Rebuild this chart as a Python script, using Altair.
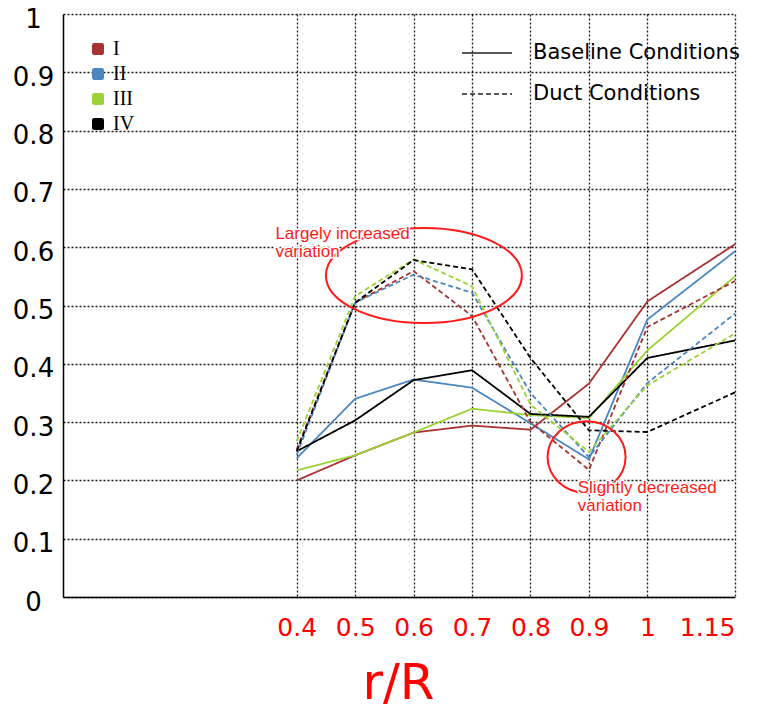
import altair as alt
import pandas as pd

# ---- data ----
r_values = [0.4, 0.5, 0.6, 0.7, 0.8, 0.9, 1.0, 1.15]
series = ["I", "II", "III", "IV"]
conditions = ["Baseline Conditions", "Duct Conditions"]

baseline = {
    "I":   [0.200, 0.243, 0.282, 0.294, 0.287, 0.366, 0.507, 0.605],
    "II":  [0.238, 0.340, 0.373, 0.359, 0.298, 0.236, 0.476, 0.593],
    "III": [0.217, 0.243, 0.282, 0.323, 0.312, 0.307, 0.423, 0.550],
    "IV":  [0.250, 0.303, 0.372, 0.389, 0.314, 0.309, 0.410, 0.440],
}
duct = {
    "I":   [0.253, 0.505, 0.559, 0.482, 0.300, 0.218, 0.463, 0.542],
    "II":  [0.244, 0.505, 0.553, 0.522, 0.350, 0.240, 0.367, 0.486],
    "III": [0.267, 0.516, 0.579, 0.533, 0.330, 0.249, 0.363, 0.452],
    "IV":  [0.250, 0.505, 0.578, 0.562, 0.410, 0.286, 0.283, 0.351],
}

x_ticks = [0.4, 0.5, 0.6, 0.7, 0.8, 0.9, 1, 1.15]
y_ticks = [0, 0.1, 0.2, 0.3, 0.4, 0.5, 0.6, 0.7, 0.8, 0.9, 1]

colors = ["#A83232", "#4A86C0", "#9CD236", "#000000"]

# annotations (data coordinates)
ann_text = ["Largely increased\nvariation", "Slightly decreased\nvariation"]
ann_tx = [0.3635, 0.8809]
ann_ty = [0.614, 0.178]
ell_cx = [0.6176, 0.896]
ell_cy = [0.5515, 0.240]

rows = []
for cond, table in zip(conditions, [baseline, duct]):
    for s in series:
        for r, v in zip(r_values, table[s]):
            rows.append({"r": r, "v": v, "series": s, "cond": cond})
df = pd.DataFrame(rows)

ann_df = pd.DataFrame({"x": ann_tx, "y": ann_ty, "t": ann_text})
ell_df = pd.DataFrame({"x": ell_cx, "y": ell_cy, "k": ["big", "small"]})

W, H = 672, 583

xscale = alt.Scale(domain=[0, 1.15], nice=False, zero=False)
yscale = alt.Scale(domain=[0, 1], nice=False)
cscale = alt.Scale(domain=series, range=colors)

rounded_sq = ("M -0.7 -1 L 0.7 -1 Q 1 -1 1 -0.7 L 1 0.7 Q 1 1 0.7 1 "
              "L -0.7 1 Q -1 1 -1 0.7 L -1 -0.7 Q -1 -1 -0.7 -1 Z")

series_legend = alt.Legend(
    title=None, orient="none", legendX=25, legendY=25,
    symbolType=rounded_sq, symbolSize=115,
    symbolStrokeColor="#707070", symbolStrokeWidth=1.3,
    symbolOpacity=1,
    labelFont="Liberation Serif", labelFontSize=20,
    labelColor="#000000", labelOffset=5,
    rowPadding=5, padding=0)

# size-0 point layer that carries the series legend (filled squares)
legend_layer = alt.Chart(df).mark_point(
    filled=True, shape=rounded_sq, size=0).encode(
    x=alt.X("r:Q", scale=xscale),
    y=alt.Y("v:Q", scale=yscale),
    color=alt.Color("series:N", scale=cscale, legend=series_legend),
)

lines = alt.Chart(df).mark_line(strokeWidth=1.8).encode(
    x=alt.X("r:Q", scale=xscale,
            axis=alt.Axis(values=x_ticks, labelExpr="'' + datum.value",
                          title="r/R", grid=True, ticks=False, tickSize=0,
                          labelPadding=38, labelBaseline="alphabetic",
                          labelColor="#FF0000", labelFontSize=25,
                          labelFont="DejaVu Sans",
                          titleColor="#FF0000", titleFontSize=50,
                          titleFont="DejaVu Sans", titleFontWeight="normal",
                          titleBaseline="alphabetic", titleY=101, titleX=335,
                          titleAlign="center",
                          domainColor="#000000", domainWidth=1.5)),
    y=alt.Y("v:Q", scale=yscale,
            axis=alt.Axis(values=y_ticks, labelExpr="'' + datum.value",
                          title=None, grid=True, ticks=False, tickSize=0,
                          labelPadding=30, labelAlign="center",
                          labelBaseline="middle", labelOffset=5,
                          labelColor="#000000", labelFontSize=26,
                          labelFont="DejaVu Sans",
                          domainColor="#000000", domainWidth=1.5)),
    color=alt.Color("series:N", scale=cscale, legend=series_legend),
    strokeDash=alt.StrokeDash("cond:N",
                              scale=alt.Scale(domain=conditions,
                                              range=[[1, 0], [5, 3]]),
                              legend=alt.Legend(
                                  title=None, orient="none", legendX=398,
                                  legendY=13, symbolType="stroke",
                                  symbolSize=2500, symbolStrokeWidth=1.5,
                                  symbolStrokeColor="#222222",
                                  labelFont="DejaVu Sans", labelFontSize=21,
                                  labelColor="#000000", labelOffset=20,
                                  labelLimit=400,
                                  rowPadding=5, padding=0)),
)

ellipse_big = ("M -1 0 A 1 0.485 0 1 0 1 0 A 1 0.485 0 1 0 -1 0 Z")
ellipse_small = ("M -1 0 A 1 0.92 0 1 0 1 0 A 1 0.92 0 1 0 -1 0 Z")

ell1 = alt.Chart(ell_df).transform_filter("datum.k == 'big'").mark_point(
    shape=ellipse_big, filled=False, stroke="#FF1A1A", strokeWidth=2,
    opacity=1).encode(x=alt.X("x:Q", scale=xscale),
                      y=alt.Y("y:Q", scale=yscale),
                      size=alt.value(196 * 196))
ell2 = alt.Chart(ell_df).transform_filter("datum.k == 'small'").mark_point(
    shape=ellipse_small, filled=False, stroke="#FF1A1A", strokeWidth=2,
    opacity=1).encode(x=alt.X("x:Q", scale=xscale),
                      y=alt.Y("y:Q", scale=yscale),
                      size=alt.value(78 * 78))

txt_halo = alt.Chart(ann_df).mark_text(
    align="left", baseline="alphabetic", lineBreak="\n", lineHeight=18,
    font="Liberation Sans", fontSize=17, stroke="white", strokeWidth=3,
    fill="white").encode(x="x:Q", y="y:Q", text="t:N")
txt = alt.Chart(ann_df).mark_text(
    align="left", baseline="alphabetic", lineBreak="\n", lineHeight=18,
    font="Liberation Sans", fontSize=17, color="#FF1A1A").encode(
    x="x:Q", y="y:Q", text="t:N")

chart = alt.layer(legend_layer, lines, ell1, ell2, txt_halo, txt).properties(
    width=W, height=H,
    background="white",
    autosize=alt.AutoSizeParams(type="none"),
    padding={"left": 63, "top": 14, "right": 33, "bottom": 110},
).configure_view(stroke=None).configure_axis(
    gridColor="#000000", gridDash=[2, 2], gridWidth=1.3, gridOpacity=0.9,
)

chart.save("out.html", embed_options={"renderer": "svg", "actions": False})
